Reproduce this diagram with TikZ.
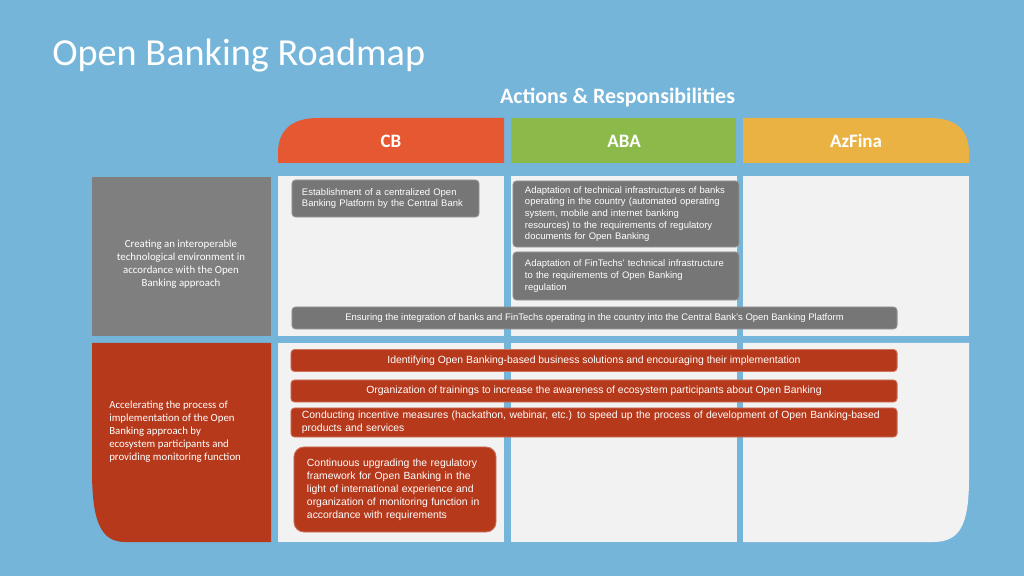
\documentclass[tikz,border=0pt]{standalone}
\usepackage{fontspec}
\setmainfont{Liberation Sans}
\newfontfamily\calibri{Carlito}
\usepackage{tikz}
\definecolor{bgblue}{RGB}{117,181,218}
\definecolor{cbred}{RGB}{229,88,50}
\definecolor{abagreen}{RGB}{139,186,75}
\definecolor{azyellow}{RGB}{234,178,67}
\definecolor{cellgray}{RGB}{242,242,242}
\definecolor{labelgray}{RGB}{127,127,127}
\definecolor{actgray}{RGB}{118,118,118}
\definecolor{actred}{RGB}{182,57,27}
\tikzset{
    grayact/.style={fill=actgray, draw=actgray!75!white, line width=0.6pt, rounded corners=2.5pt,
        text=white, inner ysep=0pt, font=\fontsize{6.75}{8.3}\selectfont},
    redact/.style={fill=actred, draw=actred!70!white, line width=0.6pt, rounded corners=2.5pt,
        text=white, inner ysep=0pt, font=\fontsize{7.4}{9.2}\selectfont},
    tablabel/.style={text=white, font=\calibri\bfseries\fontsize{13.5}{16}\selectfont},
    rowlabel/.style={text=white, inner sep=0pt, font=\calibri\fontsize{7.7}{9.2}\selectfont},
}
\begin{document}
\begin{tikzpicture}[x=0.025cm, y=-0.025cm]
    \fill[bgblue] (0,0) rectangle (1024,576);

    \node[anchor=base west, inner xsep=0pt, text=white, font=\calibri\fontsize{27.2}{32}\selectfont] (title) at (52,66) {Open Banking Roadmap};
    \node[anchor=base, text=white, font=\calibri\bfseries\fontsize{15.6}{18}\selectfont] (actions) at (617.5,104) {Actions \& Responsibilities};

    \fill[cbred] (278,163) -- (278,153) .. controls (278,130) and (292,118) .. (318,118) -- (504,118) -- (504,163) -- cycle;
    \fill[abagreen] (511,118) rectangle (736,163);
    \fill[azyellow] (743,163) -- (743,118) -- (930,118) .. controls (956,118) and (969,130) .. (969,153) -- (969,163) -- cycle;
    \node[tablabel] (CB)     at (391,141) {CB};
    \node[tablabel] (ABA)    at (624,141) {ABA};
    \node[tablabel] (AzFina) at (856,141) {AzFina};

    \foreach \cx in {278,511,743}{
        \fill[cellgray] (\cx,176) rectangle ++(226,160);
        };
    \foreach \cx in {278,511}{
        \fill[cellgray] (\cx,343) rectangle ++(226,199);
        };
    \fill[cellgray] (743,343) -- (969,343) -- (969,478) .. controls (969,525) and (960,542) .. (933,542) -- (743,542) -- cycle;

    \fill[labelgray] (92,177) rectangle (271,336);
    \fill[actred] (92,343) -- (271,343) -- (271,542) -- (125,542) .. controls (100,542) and (92,520) .. (92,470) -- cycle;
    \node[rowlabel, align=center] (row1) at (181,264) {Creating an interoperable\\technological environment in\\accordance with the Open\\Banking approach};
    \node[rowlabel, align=left, anchor=west] (row2) at (109,432) {Accelerating the process of\\implementation of the Open\\Banking approach by\\ecosystem participants and\\providing monitoring function};

    \node[grayact, minimum width=4.675cm, minimum height=0.925cm, inner xsep=0.25cm, text width=4.175cm, align=left] (platform) at (385.5,198.5)
        {Establishment of a centralized Open\\Banking Platform by the Central Bank};
    \node[grayact, minimum height=1.65cm, inner xsep=0.3cm, text width=5.05cm, align=left] (banks) at (626,214)
        {Adaptation of technical infrastructures of banks\\operating in the country (automated operating\\system, mobile and internet banking\\resources) to the requirements of regulatory\\documents for Open Banking};
    \node[grayact, minimum height=1.2cm, inner xsep=0.3cm, text width=5.05cm, align=left] (fintechs) at (626,276)
        {Adaptation of FinTechs' technical infrastructure\\to the requirements of Open Banking\\regulation};
    \node[grayact, minimum width=15.125cm, minimum height=0.55cm] (integration) at (594.5,318)
        {Ensuring the integration of banks and FinTechs operating in the country into the Central Bank's Open Banking Platform};

    \node[redact, minimum width=15.15cm, minimum height=0.55cm] (solutions) at (594,360.5)
        {Identifying Open Banking-based business solutions and encouraging their implementation};
    \node[redact, minimum width=15.15cm, minimum height=0.55cm] (trainings) at (594,391)
        {Organization of trainings to increase the awareness of ecosystem participants about Open Banking};
    \node[redact, minimum width=15.15cm, minimum height=0.725cm, inner xsep=0.275cm, text width=14.6cm, align=left] (incentive) at (594,422.5)
        {Conducting incentive measures (hackathon, webinar, etc.) to speed up the process of development of Open Banking-based\\products and services};
    \node[redact, rounded corners=7pt, minimum width=5.05cm, minimum height=2.125cm, inner xsep=0.325cm, text width=4.4cm, align=left] (regulatory) at (395,489.5)
        {Continuous upgrading the regulatory\\framework for Open Banking in the\\light of international experience and\\organization of monitoring function in\\accordance with requirements};
\end{tikzpicture}
\end{document}
